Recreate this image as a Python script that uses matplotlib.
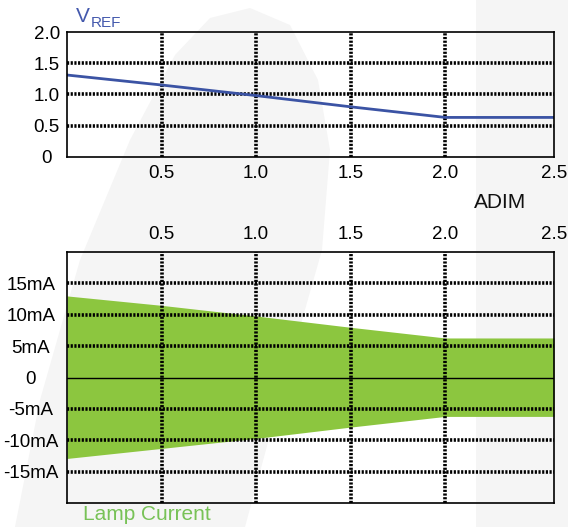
import matplotlib
matplotlib.use("Agg")
import matplotlib.pyplot as plt
from matplotlib.patches import Polygon, Rectangle
import numpy as np

plt.rcParams['font.family'] = ['Liberation Sans', 'DejaVu Sans']

# data
adim = [0.0, 0.5, 1.0, 1.5, 2.0, 2.575]
vref = [1.31, 1.15, 0.98, 0.80, 0.63, 0.63]
lamp_upper = [13.0, 11.5, 9.8, 8.0, 6.3, 6.3]
lamp_lower = [-12.9, -11.3, -9.7, -7.9, -6.2, -6.2]

x_ticks = [0.5, 1.0, 1.5, 2.0]
x_labels = ['0.5', '1.0', '1.5', '2.0']
x_end, x_end_label = 2.575, '2.5'

vref_ticks = [0, 0.5, 1.0, 1.5, 2.0]
vref_labels = ['0', '0.5', '1.0', '1.5', '2.0']
vref_grid = [0.5, 1.0, 1.5]

ma_ticks = [-15, -10, -5, 0, 5, 10, 15]
ma_labels = ['-15mA', '-10mA', '-5mA', '0', '5mA', '10mA', '15mA']
ma_grid = [-15, -10, -5, 5, 10, 15]

W, H = 568, 527
fig = plt.figure(figsize=(W / 100, H / 100), dpi=100)
fig.patch.set_facecolor('white')

def px(x, y):
    return (x / W, 1 - y / H)

# faint watermark behind the charts
bg = '#f5f5f5'
fig.patches.append(Rectangle(px(476, 527), (W - 476) / W, 1, transform=fig.transFigure,
                             facecolor=bg, edgecolor='none', zorder=-10))
leaf = [(15, 527), (40, 400), (80, 260), (130, 140), (175, 55), (210, 18), (250, 8),
        (290, 25), (318, 80), (330, 150), (322, 250), (285, 380), (245, 527)]
fig.patches.append(Polygon([px(a, b) for a, b in leaf], closed=True, transform=fig.transFigure,
                           facecolor=bg, edgecolor='none', zorder=-10))

dot = dict(color='black', lw=2.6, linestyle=(0, (0.6, 0.42)), zorder=3)

# ---- top: VREF
ax1 = fig.add_axes([67 / W, 1 - 156.7 / H, (554 - 67) / W, (156.7 - 32) / H])
ax1.set_facecolor('none')
ax1.plot(adim, vref, color='#3b53a4', lw=2.0, zorder=4)
for v in x_ticks:
    ax1.axvline(v, **dot)
for v in vref_grid:
    ax1.axhline(v, **dot)
ax1.set_xlim(0, x_end)
ax1.set_ylim(0, 2.0)
ax1.set_xticks(x_ticks + [x_end])
ax1.set_xticklabels(x_labels + [x_end_label])
ax1.set_yticks(vref_ticks)
ax1.set_yticklabels(vref_labels)
ax1.tick_params(axis='x', length=0, pad=6, labelsize=13.5)
ax1.tick_params(axis='y', length=0, pad=14.5, labelsize=13.5)
for lab in ax1.get_yticklabels():
    lab.set_ha('center')

# ---- bottom: lamp current
ax2 = fig.add_axes([67 / W, 1 - 503 / H, (554 - 67) / W, (503 - 252) / H])
ax2.set_facecolor('none')
ax2.fill_between(adim, lamp_lower, lamp_upper, color='#8cc63f', lw=0, zorder=2)
ax2.axhline(0, color='black', lw=1.0, zorder=3)
for v in x_ticks:
    ax2.axvline(v, **dot)
for v in ma_grid:
    ax2.axhline(v, **dot)
ax2.set_xlim(0, x_end)
ax2.set_ylim(-20, 20)
ax2.xaxis.tick_top()
ax2.set_xticks(x_ticks + [x_end])
ax2.set_xticklabels(x_labels + [x_end_label])
ax2.set_yticks(ma_ticks)
ax2.set_yticklabels(ma_labels)
ax2.tick_params(axis='x', length=0, pad=6.5, labelsize=13.5)
ax2.tick_params(axis='y', length=0, pad=26, labelsize=13.5)
for lab in ax2.get_yticklabels():
    lab.set_ha('center')

for ax in (ax1, ax2):
    for s in ax.spines.values():
        s.set_linewidth(1.2)
        s.set_zorder(5)

# labels
fig.text(*px(76, 22), 'V', color='#4459ad', fontsize=15, va='baseline')
fig.text(*px(91, 27), 'REF', color='#4459ad', fontsize=11, va='baseline')
fig.text(*px(474, 208), 'ADIM', color='#111111', fontsize=15, va='baseline')
fig.text(*px(83, 520), 'Lamp Current', color='#78c257', fontsize=15, va='baseline')

fig.savefig('out.png', dpi=100)
